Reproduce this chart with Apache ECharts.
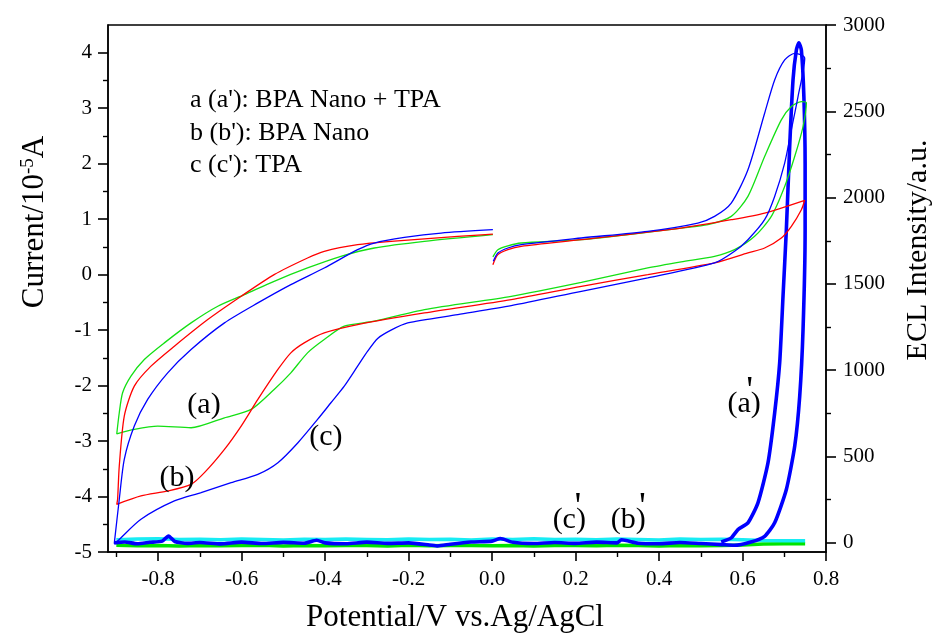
<!DOCTYPE html>
<html>
<head>
<meta charset="utf-8">
<script src="https://cdn.jsdelivr.net/npm/echarts@6/dist/echarts.min.js"></script>
<style>html,body{margin:0;padding:0;background:#fff;}#c{width:941px;height:637px;}</style>
</head>
<body>
<div id="c"></div>
<script>
// ---------- data ----------
// CV curve "a" (green)
const cvAX = [0.002,0.014,0.038,0.070,0.214,0.453,0.517,0.573,0.613,0.653,0.693,0.717,0.741,0.753,
  0.745,0.725,0.701,0.669,0.629,0.581,0.533,0.453,0.373,0.214,0.046,-0.162,-0.282,-0.354,-0.402,-0.442,-0.482,-0.522,-0.577,-0.641,-0.721,-0.801,-0.857,-0.899,
  -0.893,-0.885,-0.865,-0.833,-0.785,-0.721,-0.657,-0.593,-0.522,-0.442,-0.362,-0.282,-0.162,0.002];
const cvAY = [0.32,0.45,0.52,0.57,0.63,0.84,0.90,1.05,1.41,2.13,2.79,3.03,3.12,3.10,
  2.67,2.13,1.59,1.05,0.69,0.45,0.33,0.23,0.12,-0.14,-0.39,-0.63,-0.84,-0.93,-1.17,-1.41,-1.77,-2.07,-2.43,-2.58,-2.76,-2.73,-2.79,-2.87,
  -2.49,-2.13,-1.83,-1.53,-1.23,-0.87,-0.57,-0.36,-0.12,0.12,0.33,0.48,0.60,0.72];
// CV curve "b" (red)
const cvBX = [0.002,0.014,0.038,0.070,0.214,0.453,0.573,0.653,0.749,
  0.741,0.717,0.693,0.653,0.613,0.533,0.373,0.214,0.046,-0.162,-0.322,-0.402,-0.450,-0.482,-0.513,-0.561,-0.601,-0.641,-0.689,-0.721,-0.777,-0.841,-0.899,
  -0.897,-0.893,-0.881,-0.857,-0.817,-0.761,-0.681,-0.601,-0.522,-0.442,-0.402,-0.322,-0.242,-0.082,0.002];
const cvBY = [0.18,0.36,0.45,0.51,0.63,0.84,0.99,1.11,1.34,
  1.17,0.87,0.66,0.48,0.39,0.21,0.00,-0.21,-0.45,-0.69,-0.90,-1.05,-1.23,-1.41,-1.71,-2.25,-2.73,-3.15,-3.57,-3.78,-3.90,-3.99,-4.14,
  -4.05,-3.45,-2.55,-2.01,-1.65,-1.29,-0.81,-0.39,0.00,0.30,0.42,0.54,0.60,0.69,0.73];
// CV curve "c" (blue)
const cvCX = [0.003,0.014,0.038,0.070,0.214,0.373,0.493,0.533,0.573,0.613,0.653,0.677,0.701,0.725,0.741,0.749,
  0.733,0.717,0.701,0.677,0.653,0.613,0.581,0.533,0.373,0.214,0.046,-0.082,-0.202,-0.242,-0.274,-0.298,-0.322,-0.354,-0.386,-0.418,-0.465,-0.513,-0.561,-0.625,-0.697,-0.761,-0.841,-0.897,-0.905,
  -0.893,-0.881,-0.857,-0.825,-0.777,-0.721,-0.641,-0.561,-0.482,-0.402,-0.322,-0.282,-0.210,-0.122,0.002];
const cvCY = [0.24,0.39,0.48,0.54,0.66,0.78,0.93,1.05,1.29,1.89,2.91,3.51,3.87,3.99,3.96,3.90,
  3.21,2.61,2.01,1.41,0.99,0.63,0.42,0.21,-0.06,-0.30,-0.56,-0.72,-0.87,-1.00,-1.15,-1.38,-1.65,-2.01,-2.31,-2.61,-3.03,-3.39,-3.60,-3.75,-3.93,-4.08,-4.41,-4.80,-4.85,
  -4.05,-3.33,-2.73,-2.25,-1.77,-1.35,-0.87,-0.51,-0.18,0.12,0.45,0.57,0.67,0.75,0.81];
// ECL a' (thick blue)
const eclAX = [-0.905,-0.88,-0.85,-0.82,-0.79,-0.775,-0.76,-0.73,-0.70,-0.65,-0.60,-0.55,-0.50,-0.45,-0.42,-0.40,-0.35,-0.30,-0.25,-0.20,-0.15,-0.13,-0.10,-0.05,0.00,0.02,0.05,0.10,0.15,0.20,0.25,0.30,0.31,0.35,0.40,0.45,0.50,0.55,0.58,0.62,0.653,
  0.677,0.705,0.725,0.737,0.745,0.750,0.750,0.747,0.741,0.735,0.729,0.721,0.713,0.705,0.697,0.689,0.677,0.661,0.637,0.613,0.589,0.573,0.549];
const eclAY = [0,5,-5,3,10,40,8,-3,2,-6,4,-4,3,-2,15,0,-5,4,-3,0,-12,-18,-8,5,10,25,3,-4,2,-3,4,0,18,-2,-5,2,-4,-10,-14,5,38,
  116,309,559,849,1235,1813,2199,2585,2855,2897,2855,2682,2296,1813,1427,1042,752,463,232,116,77,29,5];
// ECL baselines (cyan and green)
const eclBaseX = [-0.9,-0.85,-0.8,-0.75,-0.7,-0.65,-0.6,-0.55,-0.5,-0.45,-0.4,-0.35,-0.3,-0.25,-0.2,-0.15,-0.1,-0.05,0,0.05,0.1,0.15,0.2,0.25,0.3,0.35,0.4,0.45,0.5,0.55,0.6,0.65,0.7,0.75];
const eclCyanY = [18,22,24,19,21,18,23,20,17,21,19,22,20,18,23,19,21,17,22,20,24,19,21,18,22,20,17,23,19,21,18,14,12,12];
const eclGreenY = [-14,-17,-16,-18,-15,-17,-16,-14,-18,-16,-17,-15,-16,-18,-14,-17,-16,-15,-17,-16,-18,-15,-16,-17,-14,-16,-18,-15,-17,-16,-12,-7,-5,-5];
// tick values
const xTicks = [-0.8,-0.6,-0.4,-0.2,0.0,0.2,0.4,0.6,0.8];
const xMinor = [-0.9,-0.7,-0.5,-0.3,-0.1,0.1,0.3,0.5,0.7];
const yTicks = [-5,-4,-3,-2,-1,0,1,2,3,4];
const yMinor = [-4.5,-3.5,-2.5,-1.5,-0.5,0.5,1.5,2.5,3.5];
const rTicks = [0,500,1000,1500,2000,2500,3000];
const rMinor = [250,750,1250,1750,2250,2750];
// annotations
const annX = [-0.690,-0.755,-0.398,0.604,0.185,0.326];
const annY = [-2.36,-3.67,-2.93,-2.34,-4.43,-4.43];
const annText = ['(a)','(b)','(c)','(a)','(c)','(b)'];
const primeX = [0.617,0.206,0.360];
const primeY = [-2.12,-4.20,-4.20];
const legendLines = ["a (a'): BPA Nano + TPA", "b (b'): BPA Nano", "c (c'): TPA"];
const xTitle = 'Potential/V vs.Ag/AgCl';
const yTitle = 'Current/10{sup|-5}A';
const rTitle = 'ECL Intensity/a.u.';

// ---------- chart ----------
const FF = '"Liberation Serif", "Times New Roman", serif';
const pairs = (xs, ys) => xs.map((x, i) => [x, ys[i]]);
const chart = echarts.init(document.getElementById('c'), null, {renderer: 'canvas'});

const black = '#000';
const xMin = -0.92, xMax = 0.8, yMin = -5, yMax = 4.5, rMin = -53, rMax = 3000;

const option = {
  animation: false,
  backgroundColor: '#fff',
  grid: {left: 108, right: 115, top: 25, bottom: 85, containLabel: false, outerBoundsMode: 'none',
         show: true, borderColor: black, borderWidth: 1.3, backgroundColor: 'transparent'},
  xAxis: [
    {type: 'value', min: xMin, max: xMax, position: 'bottom',
     axisLine: {show: true, onZero: false, lineStyle: {color: black, width: 1.6}},
     axisTick: {show: true, customValues: xTicks, length: 9, lineStyle: {color: black, width: 1.6}},
     axisLabel: {customValues: xTicks, formatter: v => v.toFixed(1), fontFamily: FF, fontSize: 21, color: black, margin: 17},
     splitLine: {show: false}},
    {type: 'value', min: xMin, max: xMax, position: 'bottom',
     axisLine: {show: false, onZero: false},
     axisTick: {show: true, customValues: xMinor, length: 5, lineStyle: {color: black, width: 1.4}},
     axisLabel: {show: false}, splitLine: {show: false}}
  ],
  yAxis: [
    {type: 'value', min: yMin, max: yMax, position: 'left',
     axisLine: {show: true, onZero: false, lineStyle: {color: black, width: 1.6}},
     axisTick: {show: true, customValues: yTicks, length: 10, lineStyle: {color: black, width: 1.6}},
     axisLabel: {customValues: yTicks, fontFamily: FF, fontSize: 21, color: black, margin: 16},
     splitLine: {show: false}},
    {type: 'value', min: rMin, max: rMax, position: 'right',
     axisLine: {show: true, onZero: false, lineStyle: {color: black, width: 1.6}},
     axisTick: {show: true, customValues: rTicks, length: 10, lineStyle: {color: black, width: 1.6}},
     axisLabel: {customValues: rTicks, formatter: v => String(v), fontFamily: FF, fontSize: 21, color: black, margin: 17},
     splitLine: {show: false}},
    {type: 'value', min: yMin, max: yMax, position: 'left',
     axisLine: {show: false, onZero: false},
     axisTick: {show: true, customValues: yMinor, length: 5, lineStyle: {color: black, width: 1.4}},
     axisLabel: {show: false}, splitLine: {show: false}},
    {type: 'value', min: rMin, max: rMax, position: 'right',
     axisLine: {show: false, onZero: false},
     axisTick: {show: true, customValues: rMinor, length: 5, lineStyle: {color: black, width: 1.4}},
     axisLabel: {show: false}, splitLine: {show: false}}
  ],
  series: [
    {type: 'line', name: "b'", yAxisIndex: 1, data: pairs(eclBaseX, eclGreenY), symbol: 'none',
     lineStyle: {color: '#00e400', width: 3.5}, z: 2},
    {type: 'line', name: "c'", yAxisIndex: 1, data: pairs(eclBaseX, eclCyanY), symbol: 'none',
     lineStyle: {color: '#18ecf4', width: 3.5}, z: 3},
    {type: 'line', name: "a'", yAxisIndex: 1, data: pairs(eclAX, eclAY), symbol: 'none', smooth: 0.2,
     lineStyle: {color: '#0000ff', width: 3.6}, z: 4},
    {type: 'line', name: 'a', yAxisIndex: 0, data: pairs(cvAX, cvAY), symbol: 'none', smooth: 0.25,
     lineStyle: {color: '#14e014', width: 1.3}, z: 5},
    {type: 'line', name: 'b', yAxisIndex: 0, data: pairs(cvBX, cvBY), symbol: 'none', smooth: 0.25,
     lineStyle: {color: '#ff0000', width: 1.3}, z: 6},
    {type: 'line', name: 'c', yAxisIndex: 0, data: pairs(cvCX, cvCY), symbol: 'none', smooth: 0.25,
     lineStyle: {color: '#0000ff', width: 1.3}, z: 7},
    {type: 'scatter', yAxisIndex: 0, silent: true, symbolSize: 0, z: 10,
     itemStyle: {opacity: 1},
     data: annX.map((x, i) => ({value: [x, annY[i]], label: {formatter: annText[i]}})),
     label: {show: true, position: 'inside', fontFamily: FF, fontSize: 30, color: '#000', opacity: 1, textBorderWidth: 0}},
    {type: 'scatter', yAxisIndex: 0, silent: true, symbolSize: 0, z: 10,
     itemStyle: {opacity: 1},
     data: primeX.map((x, i) => ({value: [x, primeY[i]], label: {formatter: "'"}})),
     label: {show: true, position: 'inside', fontFamily: FF, fontSize: 38, color: '#000', opacity: 1, textBorderWidth: 0}}
  ],
  graphic: [
    {type: 'text', left: 190, top: 84, z: 20,
     style: {text: legendLines.join('\n'), font: '26px ' + FF, fill: black, lineHeight: 32.5}},
    {type: 'text', x: 455, y: 618, z: 20,
     style: {text: xTitle, font: '31px ' + FF, fill: black, align: 'center', verticalAlign: 'middle'}},
    {type: 'text', x: 35, y: 222, rotation: Math.PI / 2, z: 20,
     style: {text: yTitle, font: '31px ' + FF, fill: black, align: 'center', verticalAlign: 'middle',
       rich: {sup: {font: '19px ' + FF, fill: black, verticalAlign: 'top', padding: [0, 0, 14, 0]}}}},
    {type: 'text', x: 918, y: 250, rotation: Math.PI / 2, z: 20,
     style: {text: rTitle, font: '30px ' + FF, fill: black, align: 'center', verticalAlign: 'middle'}}
  ]
};
chart.setOption(option);
</script>
</body>
</html>
